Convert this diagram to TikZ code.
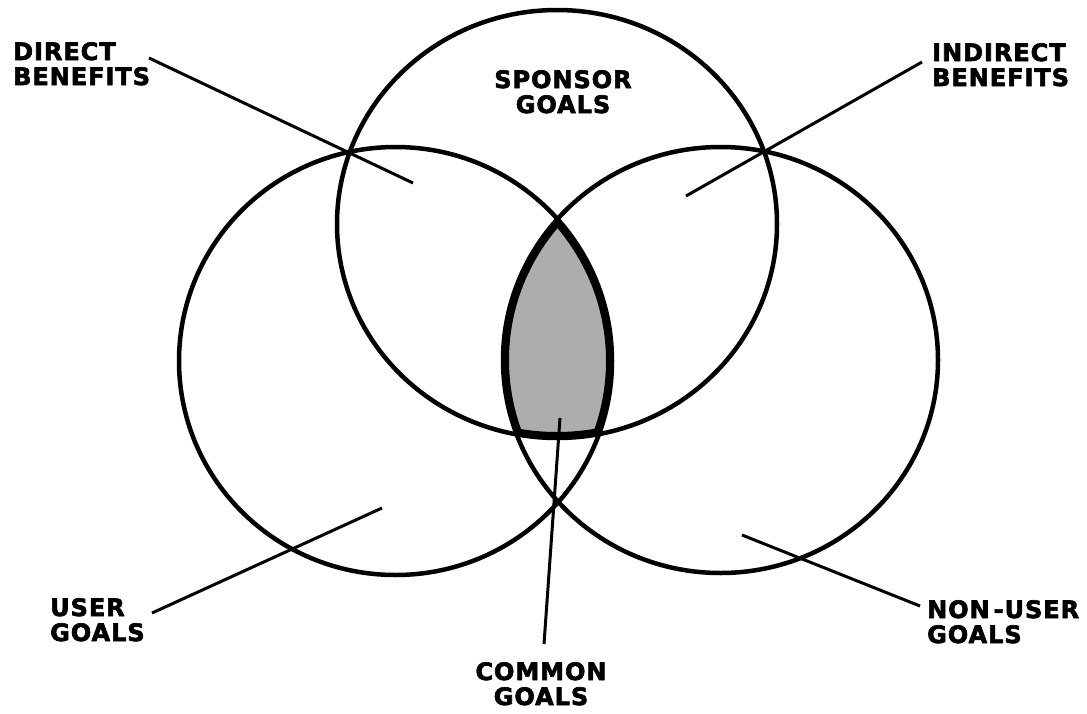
\documentclass[tikz,border=0pt]{standalone}
\usepackage{fontspec}
\newfontfamily\labfont[LetterSpace=4,BoldFeatures={FakeBold=2.6,LetterSpace=4}]{DejaVu Sans}
\begin{document}
\begin{tikzpicture}[x=1pt,y=-1pt,
  ring/.style={line width=4.5pt},
  lead/.style={line width=3pt},
  shade/.style={fill=black!32},
  lab/.style={font=\labfont\bfseries\fontsize{24}{25}\selectfont, inner sep=0pt, align=left, text=black}]
\useasboundingbox[fill=white] (0,0) rectangle (1087,713);
% centres
\coordinate (cS) at (557,224);
\coordinate (cL) at (395.5,361);
\coordinate (cR) at (720.5,360);
% common region
\begin{scope}
  \clip (cS) ellipse [x radius=220pt, y radius=214pt];
  \clip (cL) ellipse [x radius=216.5pt, y radius=214pt];
  \clip (cR) ellipse [x radius=217.5pt, y radius=213pt];
  \fill[shade] (cR) ellipse [x radius=217.5pt, y radius=213pt];
  \draw[line width=12pt] (cS) ellipse [x radius=220pt, y radius=214pt];
  \draw[line width=12pt] (cL) ellipse [x radius=216.5pt, y radius=214pt];
  \draw[line width=12pt] (cR) ellipse [x radius=217.5pt, y radius=213pt];
\end{scope}
% circles
\draw[ring] (cS) ellipse [x radius=220pt, y radius=214pt];
\draw[ring] (cL) ellipse [x radius=216.5pt, y radius=214pt];
\draw[ring] (cR) ellipse [x radius=217.5pt, y radius=213pt];
% labels
\node[lab, anchor=north west] (db) at (13,42) {DIRECT\\BENEFITS};
\node[lab, anchor=north west] (ib) at (932,43) {INDIRECT\\BENEFITS};
\node[lab, anchor=north, align=center] (sg) at (563,70) {SPONSOR\\GOALS};
\node[lab, anchor=north west] (ug) at (50,598) {USER\\GOALS};
\node[lab, anchor=north west] (ng) at (927,600) {NON\kern4pt-USER\\GOALS};
\node[lab, anchor=north, align=center] (cg) at (541,662) {COMMON\\GOALS};
% leader coordinates
\coordinate (dbA) at (149,58);  \coordinate (dbB) at (413,183);
\coordinate (ibA) at (922,62);  \coordinate (ibB) at (686,196);
\coordinate (ugA) at (152,613); \coordinate (ugB) at (382,508);
\coordinate (ngA) at (920,606); \coordinate (ngB) at (742,535);
\coordinate (cgA) at (544,644); \coordinate (cgB) at (560,418);
\draw[lead] (dbA) -- (dbB);
\draw[lead] (ibA) -- (ibB);
\draw[lead] (ugA) -- (ugB);
\draw[lead] (ngA) -- (ngB);
\draw[lead] (cgA) -- (cgB);
\end{tikzpicture}
\end{document}
